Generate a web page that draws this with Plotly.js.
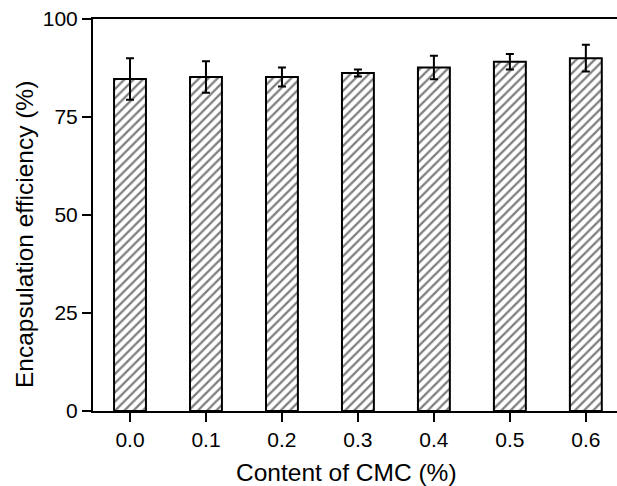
<!DOCTYPE html>
<html>
<head>
<meta charset="utf-8">
<script src="https://cdn.plot.ly/plotly-3.0.1.min.js"></script>
<style>html,body{margin:0;padding:0;background:#fff;overflow:hidden;}</style>
</head>
<body>
<div id="chart" style="width:617px;height:486px;"></div>
<script>
const cmcContent = [0.0, 0.1, 0.2, 0.3, 0.4, 0.5, 0.6];
const tickLabels = ['0.0', '0.1', '0.2', '0.3', '0.4', '0.5', '0.6'];
const efficiency = [84.7, 85.2, 85.2, 86.2, 87.6, 89.1, 90.0];
const errors = [5.3, 4.0, 2.4, 0.9, 3.0, 2.0, 3.4];
const yTicks = [0, 25, 50, 75, 100];
const xTitle = 'Content of CMC (%)';
const yTitle = 'Encapsulation efficiency (%)';

const trace = {
  type: 'bar',
  x: cmcContent,
  y: efficiency,
  width: 0.042,
  marker: {
    color: '#ffffff',
    line: {color: '#000000', width: 2},
    pattern: {shape: '/', size: 6.5, solidity: 0.35, fgcolor: '#000000', bgcolor: '#ffffff', fillmode: 'overlay'}
  },
  error_y: {type: 'data', array: errors, visible: true, color: '#000000', thickness: 2, width: 4},
  hoverinfo: 'none'
};

const layout = {
  width: 617, height: 486,
  margin: {l: 93, r: 0, t: 19, b: 75},
  paper_bgcolor: '#ffffff', plot_bgcolor: '#ffffff',
  showlegend: false,
  font: {family: '"Liberation Sans", Arial, sans-serif', color: '#000000', size: 21},
  xaxis: {
    range: [-0.0487, 0.641],
    tickvals: cmcContent, ticktext: tickLabels,
    ticks: 'outside', ticklen: 9, tickwidth: 2, tickcolor: '#000',
    showline: true, linewidth: 2, linecolor: '#000', mirror: true,
    showgrid: false, zeroline: false,
    tickfont: {size: 21}
  },
  yaxis: {
    range: [0, 100],
    tickvals: yTicks,
    ticks: 'outside', ticklen: 9, tickwidth: 2, tickcolor: '#000',
    showline: true, linewidth: 2, linecolor: '#000',
    showgrid: false, zeroline: false,
    tickfont: {size: 21}
  },
  annotations: [
    {text: xTitle, xref: 'paper', yref: 'paper', x: 0.4847, y: -0.158,
     xanchor: 'center', yanchor: 'middle', showarrow: false, font: {size: 24.5}},
    {text: yTitle, xref: 'paper', yref: 'paper', x: -0.1317, y: 0.4515, textangle: -90,
     xanchor: 'center', yanchor: 'middle', showarrow: false, font: {size: 24.5}}
  ]
};

Plotly.newPlot('chart', [trace], layout, {staticPlot: true, displayModeBar: false});
</script>
</body>
</html>
